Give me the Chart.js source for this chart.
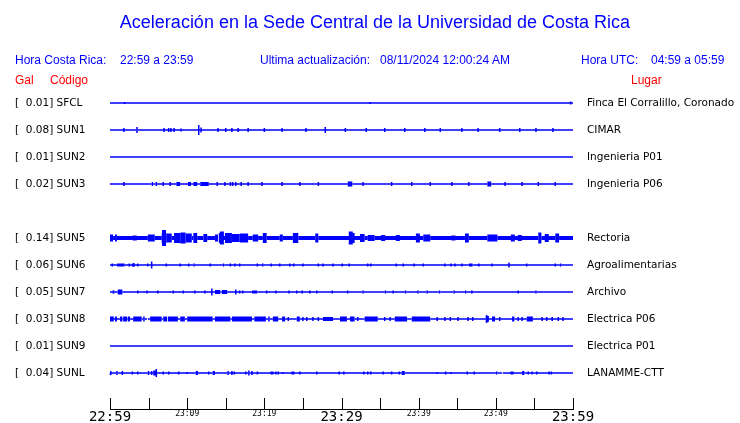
<!DOCTYPE html>
<html lang="es">
<head>
<meta charset="UTF-8">
<title>Aceleración en la Sede Central</title>
<script src="https://cdn.jsdelivr.net/npm/chart.js"></script>
<style>
  body { margin: 0; background: #fff; }
  #wrap { position: relative; width: 740px; height: 423px; }
  .t { position: absolute; white-space: pre; font-family: "Liberation Sans", Arial, sans-serif; font-size: 12px; line-height: 14px; color: #0000ff; }
  .red { color: #ff0000; }
  #title { left: 5px; width: 740px; top: 11px; text-align: center; font-size: 18px; line-height: 22px; }
</style>
</head>
<body>
<div id="wrap">
  <canvas id="chart" width="740" height="423"></canvas>
  <div class="t" id="title">Aceleración en la Sede Central de la Universidad de Costa Rica</div>
  <div class="t" style="left:15px; top:53px">Hora Costa Rica:</div>
  <div class="t" style="left:120px; top:53px">22:59 a 23:59</div>
  <div class="t" style="left:260px; top:53px">Ultima actualización:</div>
  <div class="t" style="left:380px; top:53px">08/11/2024 12:00:24 AM</div>
  <div class="t" style="left:581px; top:53px">Hora UTC:</div>
  <div class="t" style="left:651px; top:53px">04:59 a 05:59</div>
  <div class="t red" style="left:15px; top:73px">Gal</div>
  <div class="t red" style="left:50px; top:73px">Código</div>
  <div class="t red" style="left:631px; top:73px">Lugar</div>
</div>
<script>
// estaciones
const codes = ['SFCL', 'SUN1', 'SUN2', 'SUN3', 'SUN5', 'SUN6', 'SUN7', 'SUN8', 'SUN9', 'SUNL'];
const galValues = ['0.01', '0.08', '0.01', '0.02', '0.14', '0.06', '0.05', '0.03', '0.01', '0.04'];
const places = ['Finca El Corralillo, Coronado', 'CIMAR', 'Ingenieria P01', 'Ingenieria P06', 'Rectoria',
                'Agroalimentarias', 'Archivo', 'Electrica P06', 'Electrica P01', 'LANAMME-CTT'];
const rowSlots = [0, 1, 2, 3, 5, 6, 7, 8, 9, 10];
const xTickLabels = ['22:59', '23:09', '23:19', '23:29', '23:39', '23:49', '23:59'];

// rafagas: [minuto inicio, minuto fin, amplitud]
const burstsSFCL = [[1.9, 1.9, 1], [33.7, 33.7, 1], [59.7, 59.7, 1.5]];
const burstsSUN1 = [[1.8, 1.8, 2], [3.4, 3.6, 3], [7.0, 7.0, 2], [7.6, 7.6, 2], [7.9, 7.9, 2], [8.3, 8.3, 2],
  [9.2, 9.2, 1.5], [11.5, 11.5, 5], [11.8, 11.8, 2.5], [14.0, 14.0, 2], [15.0, 15.0, 2], [15.8, 15.8, 2],
  [16.6, 16.6, 2], [17.9, 17.9, 2], [20.0, 20.0, 2], [22.3, 22.3, 2], [25.4, 25.4, 2], [27.9, 27.9, 3],
  [30.5, 30.5, 2], [33.2, 33.2, 2], [35.6, 35.6, 2], [38.2, 38.2, 2], [40.8, 40.8, 2], [42.8, 42.8, 2],
  [45.6, 45.6, 2], [47.7, 47.7, 2], [50.5, 50.5, 2], [53.1, 53.1, 2], [55.2, 55.2, 2], [57.4, 57.4, 2]];
const burstsSUN2 = [];
const burstsSUN3 = [[1.8, 1.8, 2], [5.4, 5.6, 2], [5.9, 6.1, 2], [6.9, 6.9, 2], [7.8, 7.8, 2], [8.6, 9.1, 2],
  [10.1, 10.5, 2], [10.8, 11.3, 2], [11.7, 12.8, 2], [13.9, 13.9, 2], [14.9, 14.9, 2], [15.6, 15.6, 2],
  [15.9, 15.9, 2], [16.3, 16.3, 2], [17.0, 17.0, 2], [17.9, 17.9, 2], [19.7, 19.7, 2], [22.3, 22.3, 2],
  [24.6, 24.6, 2], [27.0, 27.0, 2], [30.8, 31.4, 2.5], [32.8, 32.8, 2], [36.5, 36.5, 2], [39.1, 39.1, 2],
  [41.5, 41.5, 2], [44.3, 44.3, 2], [46.5, 46.5, 2], [48.9, 49.4, 2.5], [51.2, 51.2, 2], [53.4, 53.4, 2],
  [55.5, 55.5, 2], [57.7, 57.7, 2]];
const burstsSUN5 = [[0, 0.4, 3.5], [0.65, 0.9, 3.5], [3.2, 3.2, 2.5], [4.9, 5.8, 3.5], [6.7, 7.3, 5],
  [7.0, 7.0, 8], [7.3, 8.0, 4.5], [8.3, 9.1, 5], [9.1, 9.8, 5.5], [9.8, 10.6, 4.5], [10.8, 11.3, 5],
  [12.1, 12.6, 4], [13.6, 14.0, 3.5], [14.1, 14.6, 5], [14.5, 14.5, 6.5], [14.9, 15.8, 5], [15.8, 16.8, 4],
  [16.8, 17.9, 4.5], [18.5, 19.2, 3.5], [19.8, 20.3, 5], [22.0, 22.4, 3.5], [23.7, 24.4, 5], [26.6, 27.0, 4.5],
  [31.1, 31.7, 5], [31.2, 31.2, 6.5], [32.4, 33.0, 4], [33.4, 34.3, 3], [35.4, 35.4, 3], [37.3, 37.3, 3],
  [39.9, 39.9, 4.5], [40.6, 41.5, 3.5], [44.5, 44.5, 2.5], [46.0, 46.5, 4.5], [48.9, 50.2, 3.5],
  [52.2, 52.2, 3.5], [53.1, 53.1, 3], [55.5, 55.9, 5.5], [56.6, 56.6, 4], [57.7, 58.2, 4.5]];
const burstsSUN6 = [[0.3, 0.3, 1.5], [0.9, 1.9, 1.5], [2.5, 2.5, 1.5], [2.9, 2.9, 1.5], [3.1, 3.1, 2],
  [3.6, 3.6, 1.5], [4.9, 4.9, 1.5], [5.4, 5.4, 3.5], [7.3, 7.3, 1.5], [9.1, 9.1, 1.5], [10.2, 10.2, 1.5],
  [10.8, 11.0, 1.5], [13.0, 13.0, 1.5], [14.6, 14.8, 1.5], [15.6, 15.6, 1.5], [16.2, 16.2, 1.5],
  [16.8, 16.8, 1.5], [19.1, 19.1, 1.5], [19.7, 19.9, 1.5], [20.9, 20.9, 1.5], [22.0, 22.0, 1.5],
  [23.3, 23.3, 1.5], [23.8, 23.8, 1.5], [25.0, 25.0, 1.5], [27.0, 27.0, 1.5], [27.6, 27.6, 1.5],
  [28.9, 28.9, 1.5], [30.1, 30.1, 1.5], [31.0, 31.0, 1.5], [33.4, 33.4, 1.5], [33.8, 33.8, 1.5],
  [37.1, 37.1, 1.5], [38.0, 38.0, 1.5], [39.4, 39.4, 1.5], [40.6, 40.6, 1.5], [43.4, 43.4, 1.5],
  [44.2, 44.2, 1.5], [44.7, 44.7, 1.5], [45.6, 45.6, 1.5], [46.5, 47.0, 1.5], [47.8, 47.8, 1.5],
  [49.5, 49.5, 1.5], [51.7, 51.7, 2.5], [54.0, 54.0, 1.5], [57.7, 57.7, 1.5], [58.3, 58.5, 1.5]];
const burstsSUN7 = [[0.3, 0.6, 1.5], [1.0, 1.6, 2.5], [3.6, 3.6, 1.5], [4.8, 4.8, 1.5], [6.2, 6.2, 1.5],
  [8.2, 8.2, 1.5], [9.5, 9.5, 1.5], [11.0, 11.0, 1.5], [12.3, 12.3, 1.5], [13.2, 13.2, 3.5], [13.6, 14.3, 2],
  [14.5, 15.2, 2], [16.3, 16.3, 2.5], [16.8, 16.8, 1.5], [17.2, 17.2, 1.5], [18.4, 19.1, 1.5],
  [20.3, 20.3, 1.5], [21.5, 21.5, 1.5], [23.2, 23.2, 1.5], [24.2, 24.2, 1.5], [24.9, 24.9, 1.5],
  [25.9, 25.9, 1.5], [26.8, 26.8, 1.5], [28.8, 28.8, 1.5], [30.8, 30.8, 1.5], [32.7, 32.9, 1.5],
  [35.6, 35.8, 1.5], [36.7, 36.7, 1.5], [38.2, 38.4, 1.5], [39.8, 40.0, 1.5], [41.0, 41.2, 1.5],
  [42.6, 42.8, 1.5], [44.5, 44.7, 1.5], [46.0, 46.2, 1.5], [46.9, 46.9, 1.5], [52.9, 52.9, 1.5],
  [55.1, 55.3, 1.5]];
const burstsSUN8 = [[0, 0.5, 2.5], [0.65, 0.9, 2.5], [1.3, 1.6, 2.5], [1.7, 2.2, 2.5], [2.3, 2.6, 2.5],
  [3.0, 4.1, 2.5], [4.3, 4.5, 2.5], [4.8, 4.9, 2.5], [5.2, 6.7, 2.5], [6.9, 7.4, 2.5], [7.5, 8.8, 2.5],
  [9.1, 9.7, 2.5], [10.0, 13.3, 2.5], [13.6, 15.6, 2.5], [15.8, 18.4, 2.5], [18.7, 20.2, 2.5],
  [20.5, 20.7, 2.5], [21.1, 21.8, 2.5], [22.3, 22.7, 2.5], [23.1, 23.1, 2], [24.2, 24.6, 2.5],
  [25.0, 25.0, 2], [25.5, 25.5, 2], [26.3, 26.3, 2], [27.0, 27.0, 2], [27.6, 28.9, 2], [29.8, 30.7, 2.5],
  [31.1, 31.7, 2.5], [32.1, 32.1, 2], [33.0, 34.7, 2.5], [35.6, 35.6, 2], [36.3, 36.3, 2], [36.9, 38.5, 2.5],
  [39.1, 41.5, 2.5], [42.4, 42.4, 2], [43.4, 43.4, 2], [44.1, 44.1, 2], [45.1, 45.1, 2], [46.4, 46.4, 2],
  [47.0, 47.0, 2], [48.7, 49.1, 3], [48.8, 48.8, 4], [49.5, 49.9, 2.5], [50.5, 50.5, 2], [52.1, 52.4, 2.5],
  [52.9, 52.9, 2], [53.4, 53.4, 2], [54.0, 54.8, 2.5], [56.0, 56.0, 2], [56.6, 56.6, 2], [57.3, 57.3, 2],
  [58.1, 58.1, 2], [58.7, 58.7, 2]];
const burstsSUN9 = [];
const burstsSUNL = [[0.1, 0.1, 2], [0.8, 1.0, 2], [1.6, 1.6, 2], [2.9, 2.9, 1.5], [3.6, 3.6, 1.5],
  [4.9, 5.1, 2], [5.4, 5.4, 2], [5.6, 6.1, 2.5], [6.0, 6.0, 4], [6.9, 6.9, 1.5], [7.6, 7.6, 1.5],
  [8.9, 8.9, 1.5], [10.0, 10.0, 1], [11.1, 11.4, 2], [12.8, 12.8, 1.5], [13.3, 13.6, 2], [15.2, 15.4, 2],
  [15.8, 15.8, 2], [16.1, 16.1, 1.5], [17.6, 17.6, 1.5], [17.9, 18.1, 2.5], [18.4, 18.4, 2], [19.1, 19.1, 1.5],
  [20.9, 20.9, 1.5], [21.1, 21.1, 1.5], [21.5, 21.5, 1.5], [21.8, 21.8, 1.5], [22.4, 22.4, 1], [23.6, 23.6, 1.5],
  [23.8, 23.8, 1.5], [24.6, 24.6, 1.5], [26.8, 26.8, 1.5], [29.7, 29.7, 1.5], [30.3, 30.3, 1.5],
  [32.9, 32.9, 1.5], [33.4, 33.4, 1.5], [33.8, 33.8, 1.5], [35.4, 35.4, 1.5], [36.5, 36.5, 1.5],
  [37.5, 37.5, 1.5], [37.8, 38.2, 2], [42.4, 42.4, 1], [43.5, 43.5, 1.5], [44.2, 44.2, 1], [46.3, 46.3, 1.5],
  [47.2, 47.2, 1.5], [50.0, 50.2, 1.5], [50.8, 50.9, 2], [52.0, 52.0, 1.5], [52.2, 52.2, 1.5],
  [53.4, 53.7, 2], [54.2, 54.2, 1.5], [54.7, 54.7, 1.5], [55.3, 55.3, 1.5], [56.9, 56.9, 1.5], [57.2, 57.2, 1.5]];
const allBursts = [burstsSFCL, burstsSUN1, burstsSUN2, burstsSUN3, burstsSUN5,
                   burstsSUN6, burstsSUN7, burstsSUN8, burstsSUN9, burstsSUNL];

const ROW_GAP = 27;
const BLUE = '#0000ff';

// cada estacion: linea base con rafagas (verticales o bandas)
function buildTrace(bursts, base, lw) {
  const pts = [{ x: 0, y: base }];
  bursts.forEach(([t0, t1, a]) => {
    if (t0 === t1) {
      pts.push({ x: t0, y: base }, { x: t0, y: base - a }, { x: t0, y: base + a }, { x: t0, y: base });
    } else {
      pts.push({ x: t0, y: base, w: Math.max(2 * a, lw) }, { x: t1, y: base });
    }
  });
  pts.push({ x: 60, y: base });
  return pts;
}

const datasets = codes.map((code, i) => {
  const lw = code === 'SUN5' ? 4 : 1.5;
  const pts = buildTrace(allBursts[i], rowSlots[i] * ROW_GAP, lw);
  return {
    label: code,
    data: pts,
    showLine: true,
    borderColor: BLUE,
    borderWidth: lw,
    borderCapStyle: 'butt',
    borderJoinStyle: 'bevel',
    pointRadius: 0,
    tension: 0,
    clip: 6,
    segment: { borderWidth: ctx => pts[ctx.p0DataIndex].w || lw }
  };
});

const leftLabels = codes.map((c, i) => '[  ' + galValues[i] + '] ' + c);
const rowTicks = axis => { axis.ticks = rowSlots.map(s => ({ value: s * ROW_GAP })); };

// marcas del eje hacia arriba
const upTicks = {
  id: 'upTicks',
  afterDraw(chart) {
    const s = chart.scales.x, c = chart.ctx;
    c.save();
    c.strokeStyle = '#000';
    c.lineWidth = 1;
    s.ticks.forEach((t, i) => {
      const px = Math.round(s.getPixelForTick(i)) + 0.5;
      c.beginPath();
      c.moveTo(px, s.top - 11);
      c.lineTo(px, s.top);
      c.stroke();
    });
    c.restore();
  }
};

Chart.defaults.font.family = 'DejaVu Sans';
Chart.defaults.color = '#000';

new Chart(document.getElementById('chart'), {
  type: 'scatter',
  data: { datasets },
  plugins: [upTicks],
  options: {
    responsive: false,
    devicePixelRatio: 1,
    animation: false,
    events: [],
    layout: { padding: { top: 90, left: 15, right: 0, bottom: 0 } },
    plugins: { legend: { display: false }, tooltip: { enabled: false } },
    scales: {
      x: {
        type: 'linear', min: 0, max: 60,
        grid: { display: false },
        border: { display: true, color: '#000', width: 1 },
        afterFit: s => { s.height = 14; },
        ticks: {
          stepSize: 5, autoSkip: false, maxRotation: 0, padding: -8, color: '#000',
          callback: v => (v % 10 === 0 ? xTickLabels[v / 10] : ''),
          font: ctx => (ctx.tick && ctx.tick.value % 30 === 0)
            ? { family: 'DejaVu Sans Mono', size: 14 }
            : { family: 'DejaVu Sans Mono', size: 8 }
        }
      },
      y: {
        type: 'linear', position: 'left', reverse: true, min: -13, max: 306,
        grid: { display: false }, border: { display: false },
        afterBuildTicks: rowTicks,
        afterFit: s => { s.width = 95; },
        ticks: { autoSkip: false, crossAlign: 'far', font: { size: 10.5 }, callback: (v, i) => leftLabels[i] }
      },
      y2: {
        type: 'linear', position: 'right', reverse: true, min: -13, max: 306,
        grid: { display: false }, border: { display: false },
        afterBuildTicks: rowTicks,
        afterFit: s => { s.width = 167; },
        ticks: { autoSkip: false, padding: 6, font: { size: 10.5 }, callback: (v, i) => places[i] }
      }
    }
  }
});
</script>
</body>
</html>
